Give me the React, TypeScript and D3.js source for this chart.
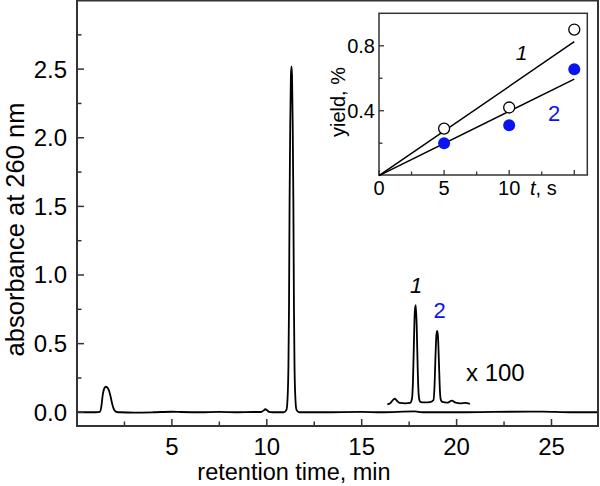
import React from "react";
import * as d3 from "d3";

// ---------- Data ----------
// main chromatogram (retention time, min ; absorbance at 260 nm)
const traceTime = [
  0, 0.5, 1.0, 1.2, 1.28, 1.36, 1.44, 1.52, 1.6, 1.68, 1.76, 1.84, 1.92, 2.0, 2.1, 2.3,
  3.0, 4.0, 5.0, 5.5, 6.5, 7.5, 8.5, 9.3, 9.7, 9.82, 9.92, 10.02, 10.12, 10.3,
  10.9, 11.04, 11.1, 11.14, 11.17, 11.2, 11.235, 11.27, 11.3, 11.33, 11.365, 11.4, 11.43, 11.46, 11.5, 11.56, 11.7,
  13.0, 15.0, 16.0, 17.8, 18.2, 20.0, 22.0, 24.5, 26.0, 27.45,
];
const traceAbs = [
  0.0, 0.0, 0.0, 0.003, 0.04, 0.13, 0.175, 0.186, 0.18, 0.16, 0.12, 0.07, 0.03, 0.01, 0.002, 0.0,
  -0.002, 0.0, 0.004, 0.002, 0.0, 0.003, 0.0, 0.002, 0.002, 0.012, 0.022, 0.014, 0.003, 0.0,
  0.0, 0.02, 0.12, 0.34, 0.77, 1.53, 2.1, 2.45, 2.52, 2.45, 2.1, 1.53, 0.77, 0.34, 0.12, 0.02, 0.0,
  0.0, 0.003, 0.0, 0.006, 0.0, 0.0, 0.003, 0.005, 0.0, 0.0,
];
// x100 magnified segment
const zoomTime = [
  16.35, 16.5, 16.65, 16.75, 16.85, 17.0, 17.3, 17.55, 17.65, 17.7, 17.75, 17.8, 17.85, 17.9, 17.95, 18.0, 18.05, 18.12,
  18.3, 18.6, 18.78, 18.84, 18.89, 18.94, 18.98, 19.02, 19.07, 19.12, 19.17, 19.25, 19.5, 19.75, 19.95, 20.2, 20.45, 20.7,
];
const zoomAbs = [
  0.058, 0.065, 0.09, 0.1, 0.085, 0.068, 0.065, 0.068, 0.1, 0.22, 0.5, 0.74, 0.78, 0.62, 0.32, 0.13, 0.085, 0.074,
  0.072, 0.074, 0.088, 0.2, 0.42, 0.57, 0.593, 0.55, 0.36, 0.16, 0.09, 0.075, 0.07, 0.085, 0.07, 0.065, 0.068, 0.062,
];

// inset: yield vs time
const insetTimes = [5, 10, 15];
const yield1 = [0.29, 0.42, 0.9];
const yield2 = [0.2, 0.31, 0.655];
const fit1 = [[0, 0], [15, 0.825]];
const fit2 = [[0, 0], [15, 0.595]];

// ticks
const mainXMajor = [5, 10, 15, 20, 25];
const mainXMinor = [2.5, 7.5, 12.5, 17.5, 22.5];
const mainYMajor = [0, 0.5, 1.0, 1.5, 2.0, 2.5];
const mainYMinor = [0.25, 0.75, 1.25, 1.75, 2.25, 2.75];
const insetXMajor = [0, 5, 10, 15];
const insetXLabels = ["0", "5", "10"];
const insetXMinor = [2.5, 7.5, 12.5];
const insetYMajor = [0.4, 0.8];
const insetYMinor = [0.2, 0.6];

const FONT = "'Liberation Sans', Arial, Helvetica, sans-serif";
const BLUE = "#0a14f0";
const FRAME = "#333";

export default function App() {
  // main plot geometry
  const L = 77, R = 598, T = 0.5, B = 426;
  const x = d3.scaleLinear().domain([0, 27.45]).range([L, R]);
  const y = d3.scaleLinear().domain([-0.1, 3.0]).range([B, T]);

  const line = d3
    .line<[number, number]>()
    .x((d) => x(d[0]))
    .y((d) => y(d[1]))
    .curve(d3.curveMonotoneX);

  const mainPts = traceTime.map((t, i) => [t, traceAbs[i]] as [number, number]);
  const zoomPts = zoomTime.map((t, i) => [t, zoomAbs[i]] as [number, number]);

  // inset geometry
  const iL = 379, iR = 587.3, iT = 13.3, iB = 175;
  const ix = d3.scaleLinear().domain([0, 16]).range([iL, iR]);
  const iy = d3.scaleLinear().domain([0, 1.0]).range([iB + 0.7, iT]);
  const iline = d3
    .line<number[]>()
    .x((d) => ix(d[0]))
    .y((d) => iy(d[1]));

  return (
    <svg
      width={600}
      height={486}
      style={{ position: "absolute", left: 0, top: 0, background: "#fff" }}
      fontFamily={FONT}
    >
      <rect x={0} y={0} width={600} height={486} fill="#fff" />
      {/* main traces */}
      <path d={line(mainPts) || ""} fill="none" stroke="#000" strokeWidth={1.8} strokeLinejoin="round" />
      <path d={line(zoomPts) || ""} fill="none" stroke="#000" strokeWidth={1.8} strokeLinejoin="round" />

      {/* main frame */}
      <rect x={L} y={T} width={R - L} height={B - T} fill="none" stroke={FRAME} strokeWidth={2} />

      {/* main x ticks */}
      {mainXMajor.map((v) => (
        <g key={"mx" + v}>
          <line x1={x(v)} x2={x(v)} y1={B} y2={B - 7} stroke={FRAME} strokeWidth={1.5} />
          <text x={x(v)} y={455} textAnchor="middle" fontSize={24} fill="#000">
            {v}
          </text>
        </g>
      ))}
      {mainXMinor.map((v) => (
        <line key={"mxm" + v} x1={x(v)} x2={x(v)} y1={B} y2={B - 4.5} stroke={FRAME} strokeWidth={1.5} />
      ))}
      {/* main y ticks */}
      {mainYMajor.map((v) => (
        <g key={"my" + v}>
          <line x1={L} x2={L + 7} y1={y(v)} y2={y(v)} stroke={FRAME} strokeWidth={1.5} />
          <text x={67} y={y(v)} dy="0.35em" textAnchor="end" fontSize={24} fill="#000">
            {d3.format(".1f")(v)}
          </text>
        </g>
      ))}
      {mainYMinor.map((v) => (
        <line key={"mym" + v} x1={L} x2={L + 4.5} y1={y(v)} y2={y(v)} stroke={FRAME} strokeWidth={1.5} />
      ))}

      {/* axis titles */}
      <text x={294} y={480} textAnchor="middle" fontSize={23.5} fill="#000">
        retention time, min
      </text>
      <text
        transform="translate(23.5,229.5) rotate(-90)"
        textAnchor="middle"
        fontSize={25.5}
        fill="#000"
      >
        absorbance at 260 nm
      </text>

      {/* peak annotations */}
      <text x={416} y={293} textAnchor="middle" fontSize={22} fontStyle="italic" fill="#000">
        1
      </text>
      <text x={439.5} y={318} textAnchor="middle" fontSize={22} fill={BLUE}>
        2
      </text>
      <text x={466} y={381} fontSize={24} fill="#000">
        x 100
      </text>

      {/* ---------- inset ---------- */}
      <rect x={iL} y={iT} width={iR - iL} height={iB - iT} fill="#fff" stroke={FRAME} strokeWidth={1.5} />
      {insetXMajor.map((v) => (
        <line key={"ix" + v} x1={ix(v)} x2={ix(v)} y1={iB} y2={iB - 5} stroke={FRAME} strokeWidth={1.3} />
      ))}
      {insetXMinor.map((v) => (
        <line key={"ixm" + v} x1={ix(v)} x2={ix(v)} y1={iB} y2={iB - 3.5} stroke={FRAME} strokeWidth={1.3} />
      ))}
      {insetXLabels.map((lab, i) => (
        <text key={"ixl" + lab} x={ix(insetXMajor[i])} y={195} textAnchor="middle" fontSize={20} fill="#000">
          {lab}
        </text>
      ))}
      <text x={530} y={195} fontSize={20} fill="#000">
        <tspan fontStyle="italic">t</tspan>, s
      </text>
      {insetYMajor.map((v) => (
        <g key={"iy" + v}>
          <line x1={iL} x2={iL + 5} y1={iy(v)} y2={iy(v)} stroke={FRAME} strokeWidth={1.3} />
          <text x={375} y={iy(v)} dy="0.35em" textAnchor="end" fontSize={20} fill="#000">
            {d3.format(".1f")(v)}
          </text>
        </g>
      ))}
      {insetYMinor.map((v) => (
        <line key={"iym" + v} x1={iL} x2={iL + 3.5} y1={iy(v)} y2={iy(v)} stroke={FRAME} strokeWidth={1.3} />
      ))}
      <text transform="translate(345,102) rotate(-90)" textAnchor="middle" fontSize={20} fill="#000">
        yield, %
      </text>

      {/* fit lines */}
      <path d={iline(fit1) || ""} fill="none" stroke="#000" strokeWidth={1.5} />
      <path d={iline(fit2) || ""} fill="none" stroke="#000" strokeWidth={1.5} />

      {/* points */}
      {insetTimes.map((t, i) => (
        <circle key={"p1" + t} cx={ix(t)} cy={iy(yield1[i])} r={5.5} fill="#fff" stroke="#000" strokeWidth={1.3} />
      ))}
      {insetTimes.map((t, i) => (
        <circle key={"p2" + t} cx={ix(t)} cy={iy(yield2[i])} r={6} fill={BLUE} />
      ))}

      <text x={521.5} y={60} textAnchor="middle" fontSize={21} fontStyle="italic" fill="#000">
        1
      </text>
      <text x={554} y={121} textAnchor="middle" fontSize={22} fill={BLUE}>
        2
      </text>
    </svg>
  );
}
